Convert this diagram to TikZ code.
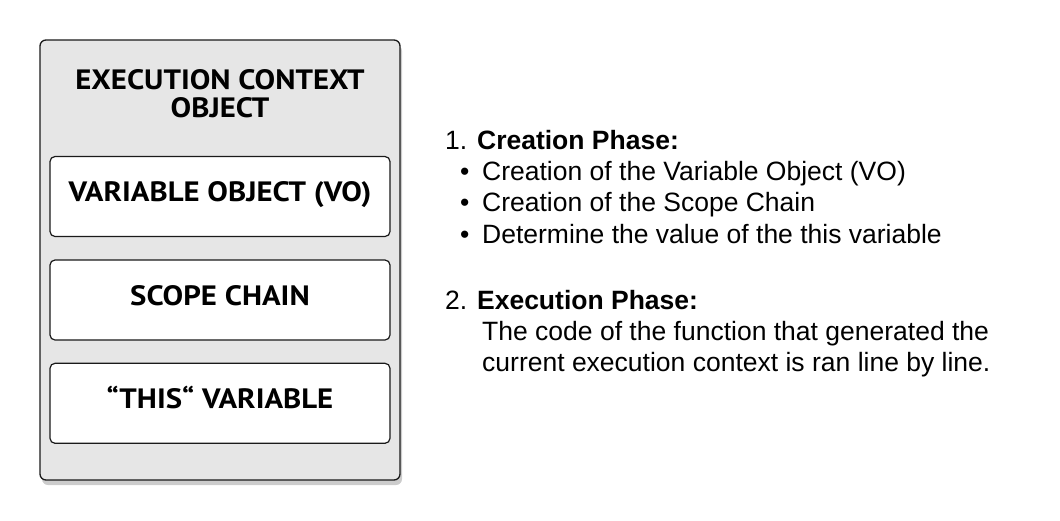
\documentclass[tikz,border=0pt]{standalone}
\usepackage{fontspec}
\setmainfont{Liberation Sans}
\newfontfamily\handfont{PT Sans}[Ligatures=TeX, FakeStretch=1.1]
\usepackage{tikz}
\usetikzlibrary{positioning, shadows}
\definecolor{ecgray}{HTML}{E6E6E6}
\definecolor{ecline}{HTML}{1A1A1A}

\begin{document}
\begin{tikzpicture}[
  x=1pt, y=-1pt,
  outerbox/.style={
    rectangle, rounded corners=6pt, draw=ecline, fill=ecgray, line width=1.3pt,
    drop shadow={shadow xshift=2pt, shadow yshift=-5pt, opacity=0.2, fill=black},
  },
  partbox/.style={
    rectangle, rounded corners=5pt, draw=ecline, fill=white, line width=1.2pt,
    minimum width=340pt, minimum height=80pt, inner sep=0pt,
    font=\handfont\bfseries\fontsize{28}{28}\selectfont, text height=20pt, text depth=10pt,
  },
  txt/.style={anchor=base west, inner sep=0pt, font=\fontsize{26.5}{31}\selectfont},
]
  \useasboundingbox (0,0) rectangle (1060,520);

  % Execution context object
  \draw[outerbox] (40,40) rectangle (400,480);
  \node[align=center, inner sep=0pt, font=\handfont\bfseries\fontsize{28}{28}\selectfont] (ec) at (220,94)
    {EXECUTION CONTEXT\\OBJECT};
  \node[partbox] (vo) at (220,196.5) {VARIABLE OBJECT (VO)};
  \node[partbox] (sc) at (220,300) {SCOPE CHAIN};
  \node[partbox] (tv) at (220,403.3) {“THIS“ VARIABLE};

  % Phases
  \node[txt] (p1) at (445,149.5) {1. \textbf{Creation Phase:}};
  \node[txt] (b1) at (460,180.5) {\textbullet};
  \node[txt] (c1) at (482,180.5) {Creation of the Variable Object (VO)};
  \node[txt] (b2) at (460,211.5) {\textbullet};
  \node[txt] (c2) at (482,211.5) {Creation of the Scope Chain};
  \node[txt] (b3) at (460,243) {\textbullet};
  \node[txt] (c3) at (482,243) {Determine the value of the this variable};
  \node[txt] (p2) at (445,309) {2. \textbf{Execution Phase:}};
  \node[txt] (e1) at (482,340.5) {The code of the function that generated the};
  \node[txt] (e2) at (482,371.5) {current execution context is ran line by line.};
\end{tikzpicture}
\end{document}
